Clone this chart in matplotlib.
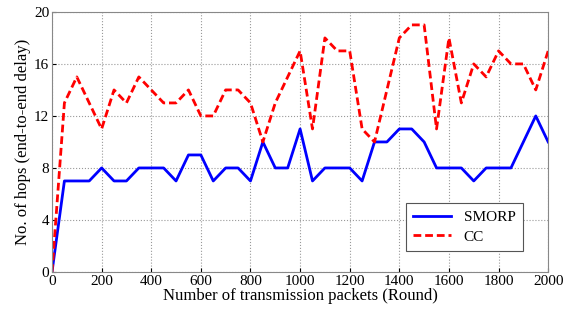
import numpy as np
import matplotlib
matplotlib.use('Agg')
import matplotlib.pyplot as plt
import matplotlib.ticker as ticker

plt.rcParams['font.family'] = ['Liberation Serif', 'DejaVu Serif']

# rounds, every 50 packets
rounds = list(range(0, 2001, 50))
smorp = [0, 7, 7, 7, 8, 7, 7, 8, 8, 8, 7, 9, 9, 7, 8, 8, 7, 10, 8, 8, 11,
         7, 8, 8, 8, 7, 10, 10, 11, 11, 10, 8, 8, 8, 7, 8, 8, 8, 10, 12, 10]
cc = [0, 13, 15, 13, 11, 14, 13, 15, 14, 13, 13, 14, 12, 12, 14, 14, 13, 10, 13, 15, 17,
      11, 18, 17, 17, 11, 10, 14, 18, 19, 19, 11, 18, 13, 16, 15, 17, 16, 16, 14, 17]

fig = plt.figure(figsize=(5.69, 3.13), dpi=100)
ax = fig.add_axes([0.0914, 0.131, 0.872, 0.831])

ax.plot(rounds, smorp, color='#0000ff', lw=2, label='SMORP')
ax.plot(rounds, cc, color='#ff0000', lw=2, ls='--', dashes=(2.8, 1.4), label='CC')

ax.set_xlim(0, 2000)
ax.set_ylim(0, 20)
ax.xaxis.set_major_locator(ticker.MultipleLocator(200))
ax.yaxis.set_major_locator(ticker.MultipleLocator(4))
ax.grid(which='major', color='#999999', linestyle=':', lw=0.8)
ax.tick_params(direction='in', length=3, labelsize=11, pad=2, top=False, right=False)
for s in ax.spines.values():
    s.set_color('#888888')
    s.set_linewidth(0.8)

ax.set_xlabel('Number of transmission packets (Round)', fontsize=12, labelpad=0)
ax.set_ylabel('No. of hops (end-to-end delay)', fontsize=12, labelpad=2)

leg = ax.legend(loc='lower right', bbox_to_anchor=(0.965, 0.05), fontsize=11,
                fancybox=False, framealpha=1, edgecolor='#555555',
                handlelength=2.5, borderpad=0.5, labelspacing=0.4)
leg.get_frame().set_linewidth(0.8)

fig.savefig('out.png', dpi=100)
